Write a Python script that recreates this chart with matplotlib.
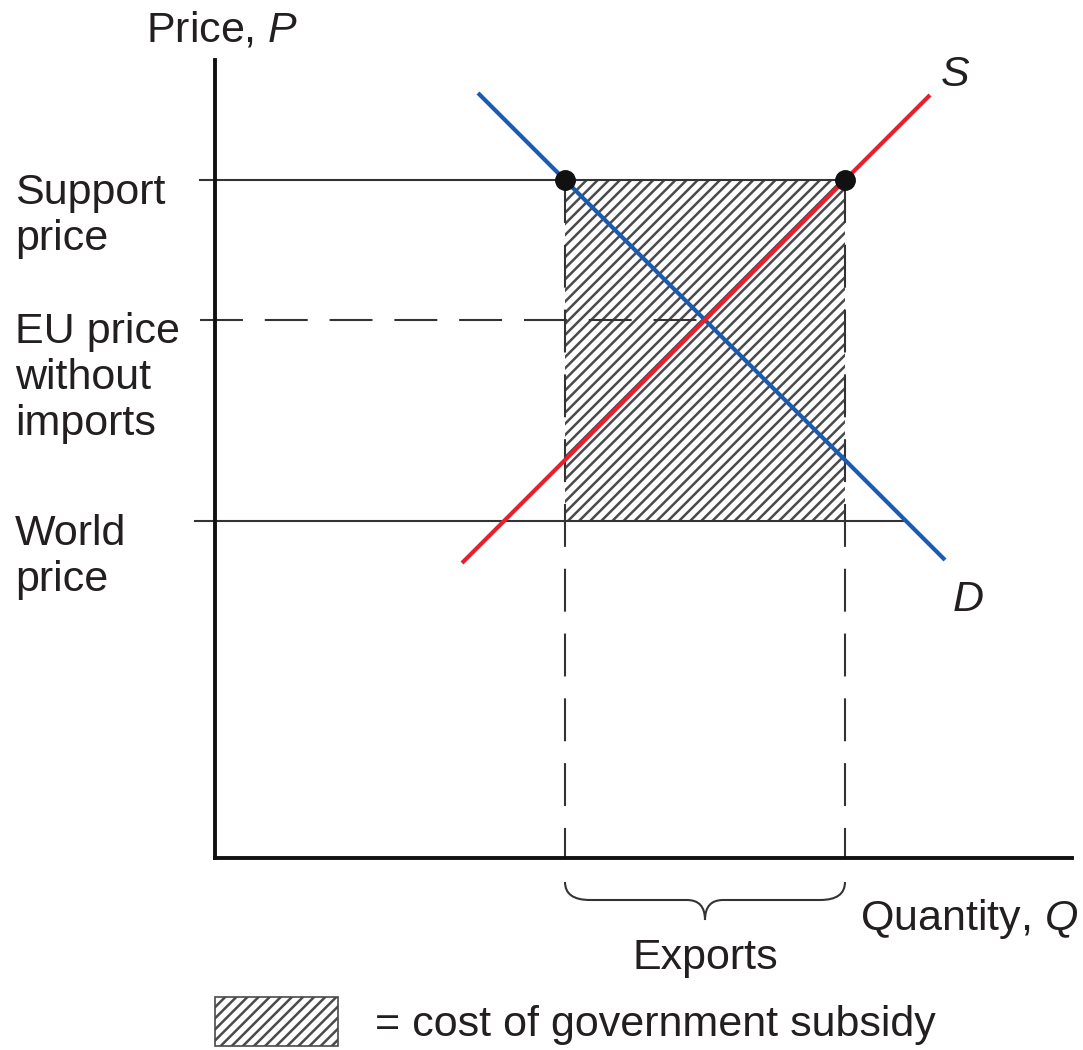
import matplotlib
matplotlib.use("Agg")
import matplotlib.pyplot as plt
from matplotlib.patches import Rectangle, PathPatch
from matplotlib.path import Path

plt.rcParams['font.family'] = ['Liberation Sans', 'DejaVu Sans']
plt.rcParams['mathtext.fontset'] = 'custom'
plt.rcParams['mathtext.rm'] = 'Liberation Sans'
plt.rcParams['mathtext.it'] = 'Liberation Sans:italic'
plt.rcParams['hatch.linewidth'] = 1.8

# ---- data (arbitrary units) ----
support_price = 6.78
eu_price = 5.38
world_price = 3.37
demand_q = [2.63, 7.30]
demand_p = [7.65, 2.98]
supply_q = [2.47, 7.15]
supply_p = [2.95, 7.63]
qd_support = 3.50     # quantity demanded at support price
qs_support = 6.30     # quantity supplied at support price
q_eu = 4.90           # equilibrium quantity without trade
qd_world = 6.91       # demand meets world price
price_labels = ["Support\nprice", "EU price\nwithout\nimports", "World\nprice"]
label_baselines = [6.08, 4.23, 2.67]   # baseline of the last line of each label

TXT = '#231f20'
LN = '#333333'
HATCH = '#4a4a4a'
BLUE = '#1c5cb0'
RED = '#e8202e'
FS = 31

fig = plt.figure(figsize=(10.83, 10.5), dpi=100)
ax = fig.add_axes([0, 0, 1, 1])
ax.set_xlim(-2.15, 8.68)
ax.set_ylim(-1.92, 8.58)
ax.set_xticks([])
ax.set_yticks([])
for s in ['top', 'right']:
    ax.spines[s].set_visible(False)
ax.spines['left'].set_position(('data', 0))
ax.spines['bottom'].set_position(('data', 0))
ax.spines['left'].set_bounds(0, 7.98)
ax.spines['bottom'].set_bounds(0, 8.57)
for s in ['left', 'bottom']:
    ax.spines[s].set_linewidth(2.8)
    ax.spines[s].set_color('#111111')

# hatched subsidy rectangle
ax.add_patch(Rectangle((qd_support, world_price), qs_support - qd_support,
                       support_price - world_price, facecolor='white',
                       edgecolor=HATCH, linewidth=0, hatch='///', zorder=1))

dash = (0, (20.6, 10.5))
# price lines
ax.plot([-0.15, qs_support], [support_price, support_price], color=LN, lw=1.5, zorder=2)
ax.plot([-0.2, qd_world], [world_price, world_price], color=LN, lw=1.5, zorder=2)
ax.plot([-0.15, q_eu], [eu_price, eu_price], color=LN, lw=1.5, ls=dash, zorder=2)
# vertical dashed lines
for q in (qd_support, qs_support):
    ax.plot([q, q], [support_price, 0], color=LN, lw=1.5, ls=dash, zorder=2)

# curves
ax.plot(demand_q, demand_p, color=BLUE, lw=3, solid_capstyle='butt', zorder=3)
ax.plot(supply_q, supply_p, color=RED, lw=3, solid_capstyle='butt', zorder=3)
ax.plot([qd_support, qs_support], [support_price, support_price], 'o',
        color='#111111', ms=14, zorder=4)

# labels
ax.text(0.07, 8.28, r"Price, $\mathit{P}$", fontsize=FS, color=TXT, ha='center', va='center')
for lab, yb in zip(price_labels, label_baselines):
    ax.text(-2.00, yb, lab, fontsize=FS, color=TXT, ha='left', va='baseline', linespacing=1.2)
ax.text(7.40, 7.83, r"$\mathit{S}$", fontsize=FS, color=TXT, ha='center', va='center')
ax.text(7.53, 2.58, r"$\mathit{D}$", fontsize=FS, color=TXT, ha='center', va='center')
ax.text(6.45, -0.61, r"Quantity, $\mathit{Q}$", fontsize=FS, color=TXT, ha='left', va='center')
ax.text((qd_support + qs_support) / 2, -1.00, "Exports", fontsize=FS, color=TXT,
        ha='center', va='center')

# brace under exports
x0, x1 = qd_support, qs_support
xm = (x0 + x1) / 2
yt, yh, ytip = -0.24, -0.42, -0.62
r, rm = 0.25, 0.18
verts = [(x0, yt), (x0, yh), (x0 + r, yh), (xm - rm, yh), (xm, yh), (xm, ytip),
         (xm, yh), (xm + rm, yh), (x1 - r, yh), (x1, yh), (x1, yt)]
codes = [Path.MOVETO, Path.CURVE3, Path.CURVE3, Path.LINETO, Path.CURVE3, Path.CURVE3,
         Path.CURVE3, Path.CURVE3, Path.LINETO, Path.CURVE3, Path.CURVE3]
ax.add_patch(PathPatch(Path(verts, codes), facecolor='none', edgecolor=LN, lw=1.5,
                       clip_on=False))

# legend key
ax.add_patch(Rectangle((0.0, -1.88), 1.23, 0.49, facecolor='white', edgecolor=HATCH,
                       linewidth=1.2, hatch='///', clip_on=False))
ax.text(1.60, -1.67, "= cost of government subsidy", fontsize=FS, color=TXT,
        ha='left', va='center')

fig.savefig("out.png", dpi=100)
